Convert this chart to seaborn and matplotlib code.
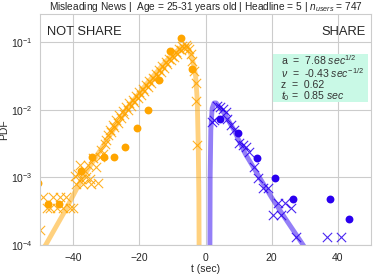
import numpy as np
import pandas as pd
import matplotlib
matplotlib.use("Agg")
import matplotlib.pyplot as plt
import seaborn as sns

# values (log10 of PDF where noted)
ns_dot_t = [-50.6, -47.5, -44.2, -37.5, -34.2, -30.8, -27.5, -24.2, -20.8, -17.5, -14.2, -10.8, -7.5, -4.2]
ns_dot_pdf = [8.2e-4, 4.0e-4, 4.0e-4, 1.24e-3, 2.0e-3, 2.0e-3, 2.0e-3, 2.8e-3, 5.3e-3, 9.8e-3, 2.72e-2, 7.4e-2, 1.16e-1, 3.95e-2]

sh_dot_t = [4.4, 9.8, 15.5, 20.9, 26.5, 37.6, 43.2]
sh_dot_pdf = [7.2e-3, 4.55e-3, 1.95e-3, 9.7e-4, 4.8e-4, 4.8e-4, 2.4e-4]

ns_cross_t = [-50.0, -49.0, -48.0, -47.0, -46.0, -45.0, -44.0, -43.0, -42.0, -41.0, -40.0,
              -39.5, -39.0, -38.5, -38.0, -37.5, -37.0, -36.5, -36.0, -35.5, -35.0, -34.5, -34.0,
              -33.0, -32.5, -32.0, -31.5, -31.0, -30.5, -30.0,
              -29.5, -29.0, -28.5, -28.0, -27.5, -27.0, -26.5, -26.0, -25.5, -25.0, -24.5, -24.0,
              -23.5, -23.0, -22.5, -22.0, -21.5, -21.0, -20.5, -20.0, -19.5, -19.0, -18.5, -18.0,
              -17.5, -17.0, -16.5, -16.0, -15.5, -15.0, -14.5, -14.0, -13.5, -13.0, -12.5, -12.0,
              -11.5, -11.0, -10.5, -10.0, -9.5, -9.0, -8.5, -8.0, -7.5, -7.0, -6.5, -6.0, -5.5,
              -5.0, -4.5, -4.0, -3.5, -3.0, -2.8, -2.5]
ns_cross_log10 = [-3.78, -3.29, -3.46, -3.46, -3.29, -3.46, -3.29, -3.46, -3.29, -3.46, -3.46,
                  -2.98, -3.10, -2.95, -2.82, -3.02, -3.10, -2.90, -3.00, -2.82, -3.02, -3.10, -2.72,
                  -2.85, -3.09, -2.70, -2.60, -2.65, -2.50, -2.45,
                  -2.38, -2.30, -2.33, -2.22, -2.25, -2.15, -2.20, -2.08, -2.12, -2.02, -2.06, -1.96,
                  -2.00, -1.90, -1.94, -1.85, -1.88, -1.80, -1.83, -1.74, -1.78, -1.69, -1.72, -1.63,
                  -1.66, -1.58, -1.61, -1.53, -1.55, -1.47, -1.50, -1.41, -1.44, -1.36, -1.38, -1.30,
                  -1.33, -1.25, -1.27, -1.20, -1.22, -1.15, -1.17, -1.10, -1.12, -1.06, -1.08, -1.04,
                  -1.07, -1.10, -1.18, -1.28, -1.42, -1.61, -1.87, -2.52]

sh_cross_t = [2.0, 2.5, 3.4, 4.4, 5.2, 6.1, 6.6, 7.6, 8.5, 10.2, 11.2, 12.2, 13.2, 14.8, 15.8,
              17.3, 18.8, 20.3, 21.9, 22.9, 23.9, 25.9, 27.4, 36.6, 40.9]
sh_cross_pdf = [6.6e-3, 7.0e-3, 1.15e-2, 1.1e-2, 1.04e-2, 9.3e-3, 7.4e-3, 5.9e-3, 5.0e-3, 3.2e-3, 3.0e-3,
                2.8e-3, 2.4e-3, 1.4e-3, 9.7e-4, 6.9e-4, 6.9e-4, 2.8e-4, 4.2e-4, 2.8e-4, 4.2e-4,
                3.5e-4, 1.33e-4, 1.33e-4, 1.33e-4]

ns_fit_t = [-52.0, -48.3, -42.5, -37.1, -30.5, -24.0, -17.5, -11.7, -9.0, -7.5, -6.5, -5.5, -4.5,
            -3.5, -3.0, -2.5, -2.2, -2.0, -1.9]
ns_fit_log10 = [-4.25, -4.0, -3.5, -3.0, -2.5, -2.0, -1.6, -1.27, -1.15, -1.08, -1.06, -1.08, -1.17,
                -1.35, -1.5, -1.85, -2.5, -3.3, -4.5]

sh_fit_t = [1.3, 1.4, 1.6, 2.0, 2.6, 3.2, 4.0, 5.6, 8.6, 12.0, 16.3, 20.0, 24.0, 29.5, 32.0]
sh_fit_log10 = [-4.5, -3.0, -2.3, -1.98, -1.9, -1.9, -1.95, -2.05, -2.3, -2.65, -3.0, -3.3, -3.6, -4.0, -4.2]

param_lines = ['a  =  7.68 $sec^{1/2}$',
               '$\\nu$  =  -0.43 $sec^{-1/2}$',
               'z  =  0.62',
               '$t_0$ =  0.85 $sec$']

sns.set_style("whitegrid")
plt.rcParams['font.family'] = ['Liberation Sans', 'DejaVu Sans']
plt.rcParams['mathtext.fontset'] = 'custom'
plt.rcParams['mathtext.rm'] = 'Liberation Sans'
plt.rcParams['mathtext.it'] = 'Liberation Sans:italic'

orange = '#ffa500'
blue = '#2a00f0'

fig = plt.figure(figsize=(3.74, 2.75), dpi=100)
ax = fig.add_axes([0.107, 0.109, 0.885, 0.840])

ns_fit = pd.DataFrame({'t': ns_fit_t, 'pdf': np.power(10.0, ns_fit_log10)})
sh_fit = pd.DataFrame({'t': sh_fit_t, 'pdf': np.power(10.0, sh_fit_log10)})
sns.lineplot(data=ns_fit, x='t', y='pdf', color=orange, alpha=0.5, lw=3.5, ax=ax, sort=False)
sns.lineplot(data=sh_fit, x='t', y='pdf', color=blue, alpha=0.5, lw=3.5, ax=ax, sort=False)

sns.scatterplot(x=ns_cross_t, y=np.power(10.0, ns_cross_log10), marker='x', color=orange,
                s=45, linewidth=0.8, alpha=0.85, ax=ax)
sns.scatterplot(x=sh_cross_t, y=sh_cross_pdf, marker='x', color=blue,
                s=45, linewidth=0.8, alpha=0.85, ax=ax)
sns.scatterplot(x=ns_dot_t, y=ns_dot_pdf, marker='o', color=orange, s=32, linewidth=0, ax=ax)
sns.scatterplot(x=sh_dot_t, y=sh_dot_pdf, marker='o', color=blue, s=32, linewidth=0, ax=ax)

ax.set_yscale('log')
ax.set_xlim(-50, 50)
ax.set_ylim(1e-4, 0.26)
ax.set_xticks([-40, -20, 0, 20, 40])
ax.tick_params(labelsize=7.5, pad=2)
ax.set_xlabel('t (sec)', fontsize=7.5, labelpad=1)
ax.set_ylabel('PDF', fontsize=7.5, labelpad=1)
ax.set_title('Misleading News |  Age = 25-31 years old | Headline = 5 | $n_{users}$ = 747',
             fontsize=7.3, pad=3)

ax.text(0.02, 0.95, 'NOT SHARE', transform=ax.transAxes, fontsize=9.3, va='top', ha='left')
ax.text(0.985, 0.95, 'SHARE', transform=ax.transAxes, fontsize=9.3, va='top', ha='right')

# parameter box
ax.add_patch(plt.Rectangle((0.704, 0.620), 0.287, 0.209, transform=ax.transAxes,
                           facecolor='#c9f9e6', edgecolor='none', zorder=4))
ax.text(0.728, 0.83, '\n'.join(param_lines), transform=ax.transAxes, fontsize=7.6,
        va='top', ha='left', color='#333333', linespacing=0.95, zorder=5)

fig.savefig('out.png', dpi=100)
